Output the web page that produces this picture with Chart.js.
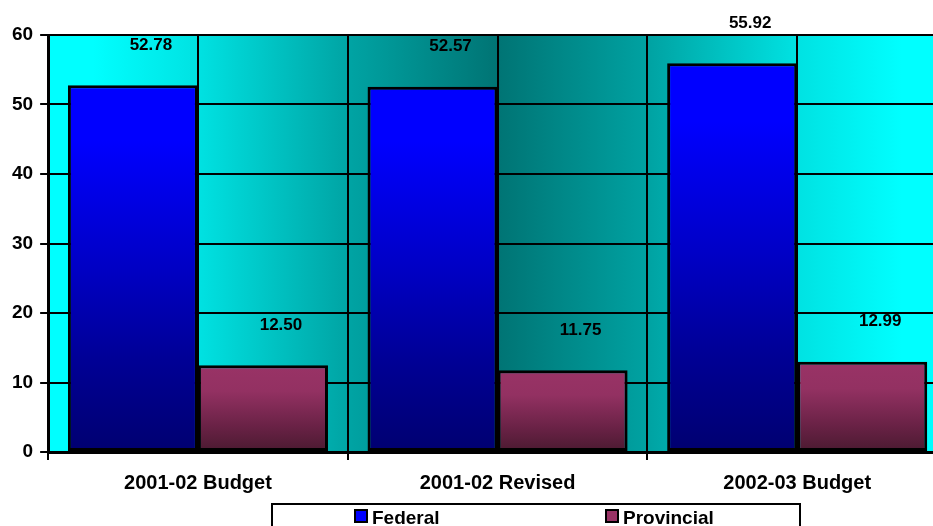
<!DOCTYPE html>
<html>
<head>
<meta charset="utf-8">
<script src="https://cdn.jsdelivr.net/npm/chart.js@4/dist/chart.umd.min.js"></script>
<style>
  html, body { margin: 0; padding: 0; background: #fff; overflow: hidden; }
  #wrap { width: 947px; height: 545px; }
</style>
</head>
<body>
<div id="wrap"><canvas id="budget"></canvas></div>
<script>
const categories = ["2001-02 Budget", "2001-02 Revised", "2002-03 Budget"];
const seriesNames = ["Federal", "Provincial"];
const federal = [52.78, 52.57, 55.92];
const provincial = [12.50, 11.75, 12.99];
const yMax = 60;
const yStep = 10;

const FONT = "Arial, 'Liberation Sans', sans-serif";
Chart.defaults.font.family = FONT;
Chart.defaults.color = "#000";

// vertical gradient spanning one bar (top of bar -> zero line)
function barFill(stops, fallback) {
  return function (ctx) {
    const chart = ctx.chart;
    if (!chart.chartArea || ctx.type !== "data") return fallback;
    const y = chart.scales.y;
    const top = y.getPixelForValue(ctx.raw);
    const bottom = y.getPixelForValue(0);
    const g = chart.ctx.createLinearGradient(0, top, 0, bottom);
    stops.forEach(s => g.addColorStop(s[0], s[1]));
    return g;
  };
}

const plotBackground = {
  id: "plotBackground",
  beforeDraw(chart) {
    const { ctx, chartArea: a } = chart;
    const g = ctx.createLinearGradient(a.left, 0, a.right, 0);
    g.addColorStop(0, "#00FFFF");
    g.addColorStop(0.05, "#00FFFF");
    g.addColorStop(0.167, "#00E2E2");
    g.addColorStop(0.333, "#00A4A4");
    g.addColorStop(0.5, "#007474");
    g.addColorStop(0.667, "#00A2A2");
    g.addColorStop(0.833, "#00E2E2");
    g.addColorStop(0.95, "#00FFFF");
    g.addColorStop(1, "#00FFFF");
    ctx.save();
    ctx.fillStyle = g;
    ctx.fillRect(a.left, a.top, a.right - a.left, a.bottom - a.top);
    ctx.restore();
  },
  beforeDatasetsDraw(chart) {
    // extra vertical lines through the middle of each category
    const { ctx, chartArea: a } = chart;
    const x = chart.scales.x;
    ctx.save();
    ctx.strokeStyle = "#000";
    ctx.lineWidth = 2;
    categories.forEach((c, i) => {
      const px = Math.round(x.getPixelForValue(i));
      ctx.beginPath();
      ctx.moveTo(px, a.top);
      ctx.lineTo(px, a.bottom);
      ctx.stroke();
    });
    ctx.restore();
  }
};

const valueLabels = {
  id: "valueLabels",
  afterDatasetsDraw(chart) {
    const ctx = chart.ctx;
    ctx.save();
    ctx.font = "bold 17px " + FONT;
    ctx.fillStyle = "#000";
    ctx.textAlign = "center";
    ctx.textBaseline = "middle";
    chart.data.datasets.forEach((ds, di) => {
      chart.getDatasetMeta(di).data.forEach((bar, i) => {
        ctx.fillText(ds.data[i].toFixed(2), bar.x + 18, bar.y - 40);
      });
    });
    ctx.restore();
  }
};

const boxLegend = {
  id: "boxLegend",
  afterDraw(chart) {
    const ctx = chart.ctx;
    const swatch = ["#0000FF", "#993366"];
    const itemX = [355, 606];
    ctx.save();
    ctx.fillStyle = "#fff";
    ctx.strokeStyle = "#000";
    ctx.lineWidth = 2;
    ctx.fillRect(272, 504, 528, 40);
    ctx.strokeRect(272, 504, 528, 40);
    ctx.font = "bold 19px " + FONT;
    ctx.textBaseline = "alphabetic";
    ctx.textAlign = "left";
    chart.data.datasets.forEach((ds, i) => {
      ctx.fillStyle = swatch[i];
      ctx.fillRect(itemX[i], 510, 12, 12);
      ctx.strokeRect(itemX[i], 510, 12, 12);
      ctx.fillStyle = "#000";
      ctx.fillText(ds.label, itemX[i] + 17, 524);
    });
    ctx.restore();
  }
};

new Chart(document.getElementById("budget"), {
  type: "bar",
  data: {
    labels: categories,
    datasets: [
      {
        label: seriesNames[0],
        data: federal,
        backgroundColor: barFill([[0, "#0000FF"], [0.15, "#0000FF"], [0.5, "#0000C4"], [0.75, "#000095"], [1, "#000070"]], "#0000FF"),
        borderColor: "#000",
        borderWidth: 3,
        borderSkipped: false
      },
      {
        label: seriesNames[1],
        data: provincial,
        backgroundColor: barFill([[0, "#993366"], [0.3, "#933162"], [0.7, "#6A2246"], [1, "#4A1A30"]], "#993366"),
        borderColor: "#000",
        borderWidth: 3,
        borderSkipped: false
      }
    ]
  },
  options: {
    responsive: true,
    maintainAspectRatio: false,
    animation: false,
    categoryPercentage: 0.868,
    barPercentage: 1,
    layout: { padding: { top: 35, left: 5, right: 0, bottom: 39 } },
    plugins: {
      legend: { display: false },
      tooltip: { enabled: false }
    },
    scales: {
      x: {
        grid: { color: "#000", lineWidth: 2, offset: true, tickLength: 8 },
        border: { color: "#000", width: 3 },
        ticks: { font: { size: 20, weight: "bold" }, padding: 11, color: "#000" }
      },
      y: {
        min: 0,
        max: yMax,
        grid: { color: "#000", lineWidth: 2, tickLength: 8 },
        border: { color: "#000", width: 3 },
        ticks: { stepSize: yStep, font: { size: 19, weight: "bold" }, padding: 7, color: "#000" }
      }
    }
  },
  plugins: [plotBackground, valueLabels, boxLegend]
});
</script>
</body>
</html>
